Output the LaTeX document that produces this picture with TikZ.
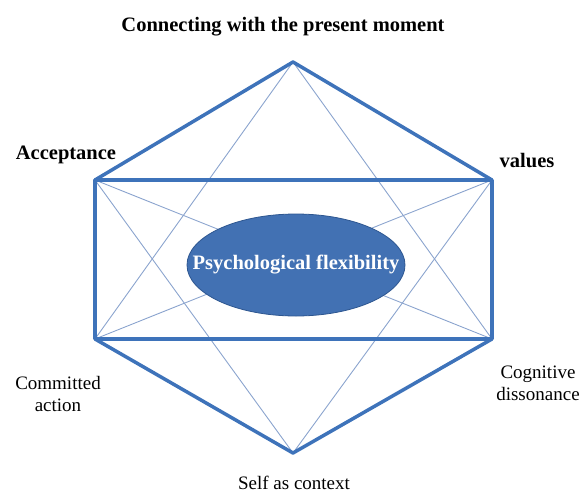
\documentclass[tikz,border=0pt]{standalone}
\usepackage{fontspec}
\setmainfont{Liberation Serif}
\usetikzlibrary{shapes.geometric}

\definecolor{hexblue}{HTML}{3E73BA}
\definecolor{thinblue}{HTML}{8BA4CE}
\definecolor{ovalblue}{HTML}{4271B3}
\definecolor{ovalrim}{HTML}{2D5690}

\begin{document}
\begin{tikzpicture}[x=1pt,y=-1pt]
        \tikzstyle{every node}=[font=\fontsize{19}{22}\selectfont]
        \tikzstyle{heading}=[font=\fontsize{20.5}{23}\selectfont\bfseries]
        \tikzstyle{heavy}=[draw=hexblue, line width=3.5pt, line join=round]
        \tikzstyle{light}=[draw=thinblue, line width=0.9pt]
        \useasboundingbox (0,0) rectangle (583,493);

        % Corners
        \coordinate (top) at (293,62);
        \coordinate (ul) at (95,180);
        \coordinate (ur) at (492,180);
        \coordinate (ll) at (95,339);
        \coordinate (lr) at (492,339);
        \coordinate (bottom) at (293,453);

        % Labels
        \node (present) [heading] at (283,27) {Connecting with the present moment};
        \node (acceptance) [heading] at (66,155) {Acceptance};
        \node (values) [heading] at (527,161) {values};
        \node (committed) [align=center] at (58,394) {Committed\\action};
        \node (cognitive) [align=center] at (538,383) {Cognitive\\dissonance};
        \node (self) at (294,483) {Self as context};

        % Edges
        \draw[light] (top) -- (ll);
        \draw[light] (top) -- (lr);
        \draw[light] (bottom) -- (ul);
        \draw[light] (bottom) -- (ur);
        \draw[light] (ul) -- (lr);
        \draw[light] (ur) -- (ll);
        \draw[heavy] (ul) -- (top) -- (ur);
        \draw[heavy] (ll) -- (bottom) -- (lr);
        \draw[heavy] (ul) rectangle (lr);

        % Centre
        \node (flex) [ellipse, draw=ovalrim, line width=0.8pt, fill=ovalblue,
          minimum width=218pt, minimum height=102pt] at (296,265) {};
        \node (flextext) [heading, text=white] at (flex.center) {Psychological flexibility};

\end{tikzpicture}
\end{document}
